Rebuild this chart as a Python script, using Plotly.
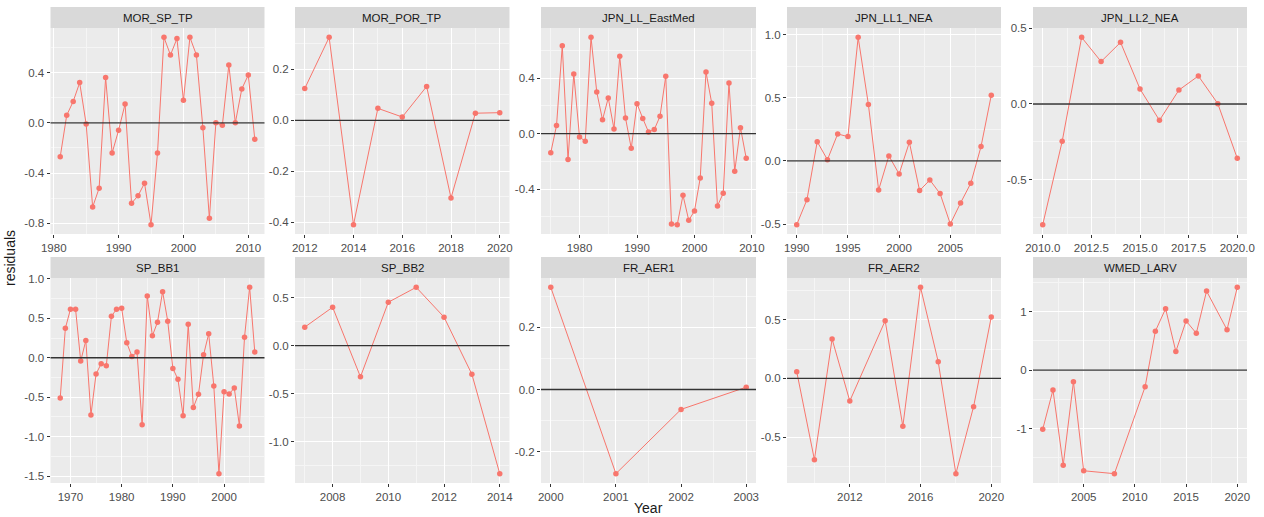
import plotly.graph_objects as go
import numpy as np

# ---------------- data ----------------
panel_names = ["MOR_SP_TP", "MOR_POR_TP", "JPN_LL_EastMed", "JPN_LL1_NEA", "JPN_LL2_NEA",
               "SP_BB1", "SP_BB2", "FR_AER1", "FR_AER2", "WMED_LARV"]

mor_sp_tp_years = list(range(1981, 2012))
mor_sp_tp_res = [-0.27, 0.06, 0.17, 0.32, -0.01, -0.67, -0.52, 0.36, -0.24, -0.06, 0.15,
                 -0.64, -0.58, -0.48, -0.81, -0.24, 0.68, 0.54, 0.67, 0.18, 0.68, 0.54,
                 -0.04, -0.76, 0.00, -0.02, 0.46, 0.00, 0.27, 0.38, -0.13]

mor_por_tp_years = list(range(2012, 2021))
mor_por_tp_res = [0.125, 0.326, -0.41, 0.047, 0.013, 0.133, -0.305, 0.028, 0.030]

jpn_ll_eastmed_years = list(range(1975, 2010))
jpn_ll_eastmed_res = [-0.137, 0.058, 0.634, -0.187, 0.43, -0.024, -0.055, 0.694, 0.30, 0.10,
                      0.257, 0.034, 0.557, 0.113, -0.106, 0.216, 0.11, 0.012, 0.029, 0.125,
                      0.413, -0.651, -0.656, -0.444, -0.625, -0.557, -0.32, 0.444, 0.219,
                      -0.521, -0.43, 0.365, -0.271, 0.043, -0.178]

jpn_ll1_nea_years = list(range(1990, 2010))
jpn_ll1_nea_res = [-0.505, -0.307, 0.153, 0.01, 0.214, 0.193, 0.98, 0.447, -0.23, 0.04,
                   -0.103, 0.148, -0.235, -0.151, -0.259, -0.50, -0.333, -0.177, 0.114, 0.521]

jpn_ll2_nea_years = list(range(2010, 2021))
jpn_ll2_nea_res = [-0.797, -0.247, 0.44, 0.28, 0.407, 0.099, -0.108, 0.092, 0.185, 0.002, -0.359]

sp_bb1_years = list(range(1968, 2007))
sp_bb1_res = [-0.51, 0.374, 0.615, 0.615, -0.042, 0.219, -0.725, -0.206, -0.076, -0.101,
              0.527, 0.615, 0.628, 0.19, 0.017, 0.072, -0.851, 0.784, 0.278, 0.451, 0.838,
              0.463, -0.135, -0.274, -0.737, 0.425, -0.632, -0.463, 0.038, 0.303, -0.358,
              -1.47, -0.43, -0.46, -0.383, -0.864, 0.261, 0.893, 0.072]

sp_bb2_years = list(range(2007, 2015))
sp_bb2_res = [0.193, 0.40, -0.324, 0.452, 0.607, 0.297, -0.297, -1.331]

fr_aer1_years = [2000, 2001, 2002, 2003]
fr_aer1_res = [0.329, -0.271, -0.064, 0.0075]

fr_aer2_years = [2009, 2010, 2011, 2012, 2014, 2015, 2016, 2017, 2018, 2019, 2020]
fr_aer2_res = [0.057, -0.693, 0.335, -0.193, 0.491, -0.409, 0.776, 0.142, -0.8125, -0.241, 0.523]

wmed_larv_years = [2001, 2002, 2003, 2004, 2005, 2008, 2011, 2012, 2013, 2014, 2015, 2016,
                   2017, 2019, 2020]
wmed_larv_res = [-1.01, -0.34, -1.625, -0.199, -1.72, -1.77, -0.284, 0.665, 1.05, 0.318,
                 0.84, 0.63, 1.35, 0.69, 1.415]

# tick values per panel
x_ticks = [[1980, 1990, 2000, 2010], [2012, 2014, 2016, 2018, 2020], [1980, 1990, 2000, 2010],
           [1990, 1995, 2000, 2005], [2010.0, 2012.5, 2015.0, 2017.5, 2020.0],
           [1970, 1980, 1990, 2000], [2008, 2010, 2012, 2014], [2000, 2001, 2002, 2003],
           [2012, 2016, 2020], [2005, 2010, 2015, 2020]]
x_tick_labels = [["1980", "1990", "2000", "2010"], ["2012", "2014", "2016", "2018", "2020"],
                 ["1980", "1990", "2000", "2010"], ["1990", "1995", "2000", "2005"],
                 ["2010.0", "2012.5", "2015.0", "2017.5", "2020.0"],
                 ["1970", "1980", "1990", "2000"], ["2008", "2010", "2012", "2014"],
                 ["2000", "2001", "2002", "2003"], ["2012", "2016", "2020"],
                 ["2005", "2010", "2015", "2020"]]
y_ticks = [[-0.8, -0.4, 0.0, 0.4], [-0.4, -0.2, 0.0, 0.2], [-0.4, 0.0, 0.4],
           [-0.5, 0.0, 0.5, 1.0], [-0.5, 0.0, 0.5], [-1.5, -1.0, -0.5, 0.0, 0.5, 1.0],
           [-1.0, -0.5, 0.0, 0.5], [-0.2, 0.0, 0.2], [-0.5, 0.0, 0.5], [-1, 0, 1]]
y_tick_labels = [["-0.8", "-0.4", "0.0", "0.4"], ["-0.4", "-0.2", "0.0", "0.2"],
                 ["-0.4", "0.0", "0.4"], ["-0.5", "0.0", "0.5", "1.0"], ["-0.5", "0.0", "0.5"],
                 ["-1.5", "-1.0", "-0.5", "0.0", "0.5", "1.0"], ["-1.0", "-0.5", "0.0", "0.5"],
                 ["-0.2", "0.0", "0.2"], ["-0.5", "0.0", "0.5"], ["-1", "0", "1"]]

panel_years = [mor_sp_tp_years, mor_por_tp_years, jpn_ll_eastmed_years, jpn_ll1_nea_years,
               jpn_ll2_nea_years, sp_bb1_years, sp_bb2_years, fr_aer1_years, fr_aer2_years,
               wmed_larv_years]
panel_res = [mor_sp_tp_res, mor_por_tp_res, jpn_ll_eastmed_res, jpn_ll1_nea_res,
             jpn_ll2_nea_res, sp_bb1_res, sp_bb2_res, fr_aer1_res, fr_aer2_res, wmed_larv_res]

# ---------------- layout geometry ----------------
W, H = 1264, 517
col_px = [(50.5, 264.5), (295, 509.5), (541, 756), (787, 1001), (1033, 1247)]
row_plot_px = [(28, 234), (278, 483)]
strip_h = 21

RED = "#F8766D"
FONT = "Liberation Sans, Arial, sans-serif"


def minor_vals(ticks, lo, hi):
    t = list(ticks)
    if len(t) < 2:
        return []
    step = t[1] - t[0]
    vals = []
    v = t[0] - step / 2
    while v <= hi + 1e-9:
        if v >= lo - 1e-9:
            vals.append(v)
        v += step
    return vals


def expand(lo, hi):
    d = (hi - lo) * 0.05
    return [lo - d, hi + d]


fig = go.Figure()
layout = dict(
    width=W, height=H,
    margin=dict(l=0, r=0, t=0, b=0),
    paper_bgcolor="white", plot_bgcolor="#EBEBEB",
    showlegend=False,
    font=dict(family=FONT, size=11, color="#4D4D4D"),
)
shapes = []
annotations = []

for i in range(10):
    r, c = divmod(i, 5)
    k = i + 1
    xa = "x" if k == 1 else f"x{k}"
    ya = "y" if k == 1 else f"y{k}"
    xs, ys = panel_years[i], panel_res[i]
    fig.add_trace(go.Scatter(
        x=xs, y=ys, mode="lines+markers", xaxis=xa, yaxis=ya,
        line=dict(color=RED, width=1), marker=dict(color=RED, size=5.5),
        hoverinfo="x+y"))

    xr = expand(min(xs), max(xs))
    yr = expand(min(min(ys), 0), max(max(ys), 0))

    x0p, x1p = col_px[c]
    top, bot = row_plot_px[r]
    xdom = [x0p / W, x1p / W]
    ydom = [1 - bot / H, 1 - top / H]

    layout[f"xaxis{k}"] = dict(
        domain=xdom, anchor=ya, range=xr,
        tickmode="array", tickvals=x_ticks[i], ticktext=x_tick_labels[i],
        showgrid=True, gridcolor="white", gridwidth=1.1,
        minor=dict(tickmode="array", tickvals=minor_vals(x_ticks[i], xr[0], xr[1]),
                   showgrid=True, gridcolor="#F5F5F5", gridwidth=0.55, ticklen=0),
        ticks="outside", ticklen=3, tickcolor="#333333", tickwidth=1,
        tickfont=dict(size=11.5, color="#4D4D4D", family=FONT),
        zeroline=False, showline=False, automargin=False, fixedrange=True,
    )
    layout[f"yaxis{k}"] = dict(
        domain=ydom, anchor=xa, range=yr,
        tickmode="array", tickvals=y_ticks[i], ticktext=y_tick_labels[i],
        showgrid=True, gridcolor="white", gridwidth=1.1,
        minor=dict(tickmode="array", tickvals=minor_vals(y_ticks[i], yr[0], yr[1]),
                   showgrid=True, gridcolor="#F5F5F5", gridwidth=0.55, ticklen=0),
        ticks="outside", ticklen=3, tickcolor="#333333", tickwidth=1,
        tickfont=dict(size=11.5, color="#4D4D4D", family=FONT),
        zeroline=False, showline=False, automargin=False, fixedrange=True,
    )

    # zero reference line
    shapes.append(dict(type="line", xref=f"{xa} domain", yref=ya, x0=0, x1=1, y0=0, y1=0,
                       line=dict(color="#333333", width=1.3), layer="above"))
    # facet strip
    shapes.append(dict(type="rect", xref="paper", yref="paper",
                       x0=xdom[0], x1=xdom[1], y0=ydom[1], y1=ydom[1] + strip_h / H,
                       fillcolor="#D9D9D9", line=dict(width=0), layer="above"))
    annotations.append(dict(text=panel_names[i], xref="paper", yref="paper",
                            x=(xdom[0] + xdom[1]) / 2, y=ydom[1] + strip_h / (2 * H),
                            xanchor="center", yanchor="middle", showarrow=False,
                            font=dict(size=11.5, color="#1A1A1A", family=FONT)))

annotations.append(dict(text="Year", xref="paper", yref="paper", x=648 / W, y=1 - 508 / H,
                        xanchor="center", yanchor="middle", showarrow=False,
                        font=dict(size=14, color="#1A1A1A", family=FONT)))
annotations.append(dict(text="residuals", xref="paper", yref="paper", x=10 / W, y=1 - 258 / H,
                        xanchor="center", yanchor="middle", showarrow=False, textangle=-90,
                        font=dict(size=14, color="#1A1A1A", family=FONT)))

layout["shapes"] = shapes
layout["annotations"] = annotations
fig.update_layout(**layout)
fig.write_html("out.html")
